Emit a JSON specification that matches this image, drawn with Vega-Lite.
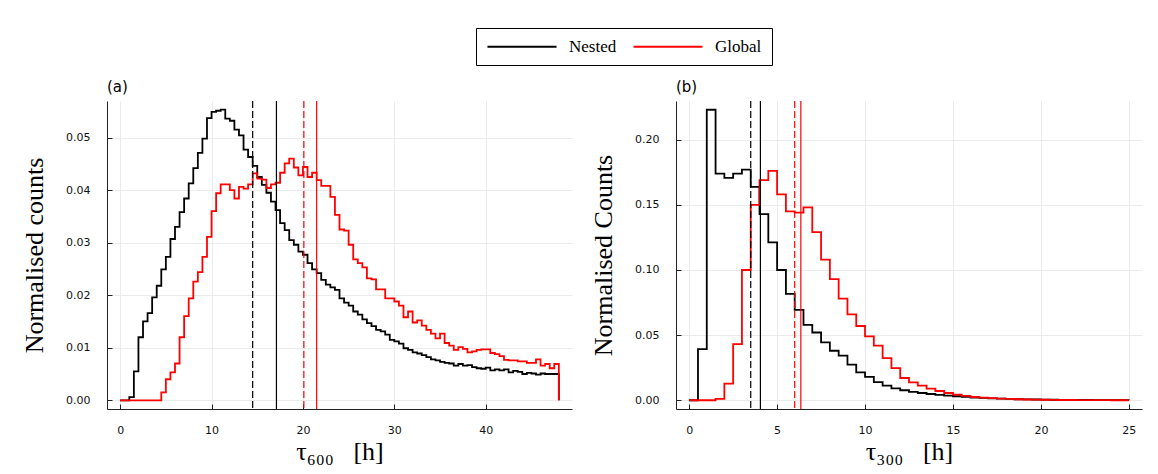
{
  "$schema": "https://vega.github.io/schema/vega-lite/v6.json",
  "padding": {"left": 21, "top": 27, "right": 10, "bottom": 5},
  "background": "white",
  "datasets": {
    "histA": [
      {"tau":0,"series":"Nested","value":0},{"tau":0.5,"series":"Nested","value":0},{"tau":1,"series":"Nested","value":0.0006},{"tau":1.5,"series":"Nested","value":0.0055},
      {"tau":2,"series":"Nested","value":0.012},{"tau":2.5,"series":"Nested","value":0.015},{"tau":3,"series":"Nested","value":0.0166},{"tau":3.5,"series":"Nested","value":0.0196},
      {"tau":4,"series":"Nested","value":0.0218},{"tau":4.5,"series":"Nested","value":0.0249},{"tau":5,"series":"Nested","value":0.0273},{"tau":5.5,"series":"Nested","value":0.0307},
      {"tau":6,"series":"Nested","value":0.033},{"tau":6.5,"series":"Nested","value":0.0358},{"tau":7,"series":"Nested","value":0.0384},{"tau":7.5,"series":"Nested","value":0.0413},
      {"tau":8,"series":"Nested","value":0.0442},{"tau":8.5,"series":"Nested","value":0.0471},{"tau":9,"series":"Nested","value":0.0498},{"tau":9.5,"series":"Nested","value":0.0537},
      {"tau":10,"series":"Nested","value":0.0549},{"tau":10.5,"series":"Nested","value":0.0551},{"tau":11,"series":"Nested","value":0.0553},{"tau":11.5,"series":"Nested","value":0.0536},
      {"tau":12,"series":"Nested","value":0.0532},{"tau":12.5,"series":"Nested","value":0.0515},{"tau":13,"series":"Nested","value":0.0504},{"tau":13.5,"series":"Nested","value":0.0477},
      {"tau":14,"series":"Nested","value":0.0463},{"tau":14.5,"series":"Nested","value":0.0446},{"tau":15,"series":"Nested","value":0.0425},{"tau":15.5,"series":"Nested","value":0.041},
      {"tau":16,"series":"Nested","value":0.0395},{"tau":16.5,"series":"Nested","value":0.0378},{"tau":17,"series":"Nested","value":0.0362},{"tau":17.5,"series":"Nested","value":0.0337},
      {"tau":18,"series":"Nested","value":0.0324},{"tau":18.5,"series":"Nested","value":0.0305},{"tau":19,"series":"Nested","value":0.0296},{"tau":19.5,"series":"Nested","value":0.0283},
      {"tau":20,"series":"Nested","value":0.0277},{"tau":20.5,"series":"Nested","value":0.0261},{"tau":21,"series":"Nested","value":0.0249},{"tau":21.5,"series":"Nested","value":0.0242},
      {"tau":22,"series":"Nested","value":0.0229},{"tau":22.5,"series":"Nested","value":0.022},{"tau":23,"series":"Nested","value":0.0215},{"tau":23.5,"series":"Nested","value":0.021},
      {"tau":24,"series":"Nested","value":0.0194},{"tau":24.5,"series":"Nested","value":0.0186},{"tau":25,"series":"Nested","value":0.018},{"tau":25.5,"series":"Nested","value":0.0169},
      {"tau":26,"series":"Nested","value":0.0163},{"tau":26.5,"series":"Nested","value":0.0154},{"tau":27,"series":"Nested","value":0.0147},{"tau":27.5,"series":"Nested","value":0.0141},
      {"tau":28,"series":"Nested","value":0.0134},{"tau":28.5,"series":"Nested","value":0.0131},{"tau":29,"series":"Nested","value":0.0125},{"tau":29.5,"series":"Nested","value":0.0115},
      {"tau":30,"series":"Nested","value":0.0112},{"tau":30.5,"series":"Nested","value":0.0108},{"tau":31,"series":"Nested","value":0.0099},{"tau":31.5,"series":"Nested","value":0.0096},
      {"tau":32,"series":"Nested","value":0.0091},{"tau":32.5,"series":"Nested","value":0.0089},{"tau":33,"series":"Nested","value":0.0086},{"tau":33.5,"series":"Nested","value":0.0082},
      {"tau":34,"series":"Nested","value":0.0078},{"tau":34.5,"series":"Nested","value":0.0076},{"tau":35,"series":"Nested","value":0.0073},{"tau":35.5,"series":"Nested","value":0.0071},
      {"tau":36,"series":"Nested","value":0.007},{"tau":36.5,"series":"Nested","value":0.0066},{"tau":37,"series":"Nested","value":0.0069},{"tau":37.5,"series":"Nested","value":0.0066},
      {"tau":38,"series":"Nested","value":0.0067},{"tau":38.5,"series":"Nested","value":0.0063},{"tau":39,"series":"Nested","value":0.0061},{"tau":39.5,"series":"Nested","value":0.006},
      {"tau":40,"series":"Nested","value":0.0062},{"tau":40.5,"series":"Nested","value":0.0057},{"tau":41,"series":"Nested","value":0.0059},{"tau":41.5,"series":"Nested","value":0.0057},
      {"tau":42,"series":"Nested","value":0.0059},{"tau":42.5,"series":"Nested","value":0.0053},{"tau":43,"series":"Nested","value":0.0056},{"tau":43.5,"series":"Nested","value":0.0054},
      {"tau":44,"series":"Nested","value":0.005},{"tau":44.5,"series":"Nested","value":0.0052},{"tau":45,"series":"Nested","value":0.0051},{"tau":45.5,"series":"Nested","value":0.0049},
      {"tau":46,"series":"Nested","value":0.0051},{"tau":46.5,"series":"Nested","value":0.005},{"tau":47,"series":"Nested","value":0.005},{"tau":47.5,"series":"Nested","value":0.005},
      {"tau":48,"series":"Nested","value":0},
      {"tau":0,"series":"Global","value":0},{"tau":0.5,"series":"Global","value":0},{"tau":1,"series":"Global","value":0},{"tau":1.5,"series":"Global","value":0},
      {"tau":2,"series":"Global","value":0},{"tau":2.5,"series":"Global","value":0},{"tau":3,"series":"Global","value":0},{"tau":3.5,"series":"Global","value":0},
      {"tau":4,"series":"Global","value":0},{"tau":4.5,"series":"Global","value":0.0015},{"tau":5,"series":"Global","value":0.004},{"tau":5.5,"series":"Global","value":0.0053},
      {"tau":6,"series":"Global","value":0.007},{"tau":6.5,"series":"Global","value":0.012},{"tau":7,"series":"Global","value":0.016},{"tau":7.5,"series":"Global","value":0.0194},
      {"tau":8,"series":"Global","value":0.0226},{"tau":8.5,"series":"Global","value":0.0244},{"tau":9,"series":"Global","value":0.0273},{"tau":9.5,"series":"Global","value":0.0311},
      {"tau":10,"series":"Global","value":0.036},{"tau":10.5,"series":"Global","value":0.0394},{"tau":11,"series":"Global","value":0.0411},{"tau":11.5,"series":"Global","value":0.0411},
      {"tau":12,"series":"Global","value":0.04},{"tau":12.5,"series":"Global","value":0.0384},{"tau":13,"series":"Global","value":0.0406},{"tau":13.5,"series":"Global","value":0.0403},
      {"tau":14,"series":"Global","value":0.0411},{"tau":14.5,"series":"Global","value":0.0432},{"tau":15,"series":"Global","value":0.0422},{"tau":15.5,"series":"Global","value":0.042},
      {"tau":16,"series":"Global","value":0.0404},{"tau":16.5,"series":"Global","value":0.0411},{"tau":17,"series":"Global","value":0.0414},{"tau":17.5,"series":"Global","value":0.0433},
      {"tau":18,"series":"Global","value":0.0451},{"tau":18.5,"series":"Global","value":0.046},{"tau":19,"series":"Global","value":0.0443},{"tau":19.5,"series":"Global","value":0.0428},
      {"tau":20,"series":"Global","value":0.0444},{"tau":20.5,"series":"Global","value":0.0425},{"tau":21,"series":"Global","value":0.0433},{"tau":21.5,"series":"Global","value":0.0419},
      {"tau":22,"series":"Global","value":0.0408},{"tau":22.5,"series":"Global","value":0.0408},{"tau":23,"series":"Global","value":0.0387},{"tau":23.5,"series":"Global","value":0.0353},
      {"tau":24,"series":"Global","value":0.0325},{"tau":24.5,"series":"Global","value":0.0323},{"tau":25,"series":"Global","value":0.0296},{"tau":25.5,"series":"Global","value":0.0268},
      {"tau":26,"series":"Global","value":0.0261},{"tau":26.5,"series":"Global","value":0.0253},{"tau":27,"series":"Global","value":0.0232},{"tau":27.5,"series":"Global","value":0.023},
      {"tau":28,"series":"Global","value":0.0211},{"tau":28.5,"series":"Global","value":0.0211},{"tau":29,"series":"Global","value":0.0194},{"tau":29.5,"series":"Global","value":0.0194},
      {"tau":30,"series":"Global","value":0.0188},{"tau":30.5,"series":"Global","value":0.018},{"tau":31,"series":"Global","value":0.0158},{"tau":31.5,"series":"Global","value":0.0169},
      {"tau":32,"series":"Global","value":0.0148},{"tau":32.5,"series":"Global","value":0.0152},{"tau":33,"series":"Global","value":0.0142},{"tau":33.5,"series":"Global","value":0.0134},
      {"tau":34,"series":"Global","value":0.0127},{"tau":34.5,"series":"Global","value":0.0118},{"tau":35,"series":"Global","value":0.0127},{"tau":35.5,"series":"Global","value":0.0109},
      {"tau":36,"series":"Global","value":0.0104},{"tau":36.5,"series":"Global","value":0.0096},{"tau":37,"series":"Global","value":0.0101},{"tau":37.5,"series":"Global","value":0.0098},
      {"tau":38,"series":"Global","value":0.0091},{"tau":38.5,"series":"Global","value":0.0093},{"tau":39,"series":"Global","value":0.0096},{"tau":39.5,"series":"Global","value":0.0097},
      {"tau":40,"series":"Global","value":0.0097},{"tau":40.5,"series":"Global","value":0.009},{"tau":41,"series":"Global","value":0.0088},{"tau":41.5,"series":"Global","value":0.0084},
      {"tau":42,"series":"Global","value":0.0077},{"tau":42.5,"series":"Global","value":0.0076},{"tau":43,"series":"Global","value":0.0076},{"tau":43.5,"series":"Global","value":0.0074},
      {"tau":44,"series":"Global","value":0.0074},{"tau":44.5,"series":"Global","value":0.0071},{"tau":45,"series":"Global","value":0.0071},{"tau":45.5,"series":"Global","value":0.0078},
      {"tau":46,"series":"Global","value":0.0066},{"tau":46.5,"series":"Global","value":0.0069},{"tau":47,"series":"Global","value":0.0061},{"tau":47.5,"series":"Global","value":0.0069},
      {"tau":48,"series":"Global","value":0}
    ],
    "histB": [
      {"tau":0,"series":"Nested","value":0},{"tau":0.5,"series":"Nested","value":0.0393},{"tau":1,"series":"Nested","value":0.223},{"tau":1.5,"series":"Nested","value":0.174},
      {"tau":2,"series":"Nested","value":0.1707},{"tau":2.5,"series":"Nested","value":0.174},{"tau":3,"series":"Nested","value":0.177},{"tau":3.5,"series":"Nested","value":0.1638},
      {"tau":4,"series":"Nested","value":0.1429},{"tau":4.5,"series":"Nested","value":0.1212},{"tau":5,"series":"Nested","value":0.1},{"tau":5.5,"series":"Nested","value":0.0816},
      {"tau":6,"series":"Nested","value":0.0694},{"tau":6.5,"series":"Nested","value":0.0579},{"tau":7,"series":"Nested","value":0.052},{"tau":7.5,"series":"Nested","value":0.0444},
      {"tau":8,"series":"Nested","value":0.038},{"tau":8.5,"series":"Nested","value":0.0342},{"tau":9,"series":"Nested","value":0.0273},{"tau":9.5,"series":"Nested","value":0.0214},
      {"tau":10,"series":"Nested","value":0.0179},{"tau":10.5,"series":"Nested","value":0.014},{"tau":11,"series":"Nested","value":0.0112},{"tau":11.5,"series":"Nested","value":0.0092},
      {"tau":12,"series":"Nested","value":0.0077},{"tau":12.5,"series":"Nested","value":0.0064},{"tau":13,"series":"Nested","value":0.0056},{"tau":13.5,"series":"Nested","value":0.0048},
      {"tau":14,"series":"Nested","value":0.0041},{"tau":14.5,"series":"Nested","value":0.0036},{"tau":15,"series":"Nested","value":0.0031},{"tau":15.5,"series":"Nested","value":0.0026},
      {"tau":16,"series":"Nested","value":0.0021},{"tau":16.5,"series":"Nested","value":0.0018},{"tau":17,"series":"Nested","value":0.0015},{"tau":17.5,"series":"Nested","value":0.0012},
      {"tau":18,"series":"Nested","value":0.001},{"tau":18.5,"series":"Nested","value":0.0008},{"tau":19,"series":"Nested","value":0.0007},{"tau":19.5,"series":"Nested","value":0.0006},
      {"tau":20,"series":"Nested","value":0.0005},{"tau":20.5,"series":"Nested","value":0.0004},{"tau":21,"series":"Nested","value":0.0003},{"tau":21.5,"series":"Nested","value":0.0003},
      {"tau":22,"series":"Nested","value":0.0002},{"tau":22.5,"series":"Nested","value":0.0002},{"tau":23,"series":"Nested","value":0.0001},{"tau":23.5,"series":"Nested","value":0.0001},
      {"tau":24,"series":"Nested","value":0.0001},{"tau":24.5,"series":"Nested","value":0.0001},{"tau":25,"series":"Nested","value":0},
      {"tau":0,"series":"Global","value":0},{"tau":0.5,"series":"Global","value":0},{"tau":1,"series":"Global","value":0},{"tau":1.5,"series":"Global","value":0.001},
      {"tau":2,"series":"Global","value":0.0128},{"tau":2.5,"series":"Global","value":0.0431},{"tau":3,"series":"Global","value":0.1},{"tau":3.5,"series":"Global","value":0.15},
      {"tau":4,"series":"Global","value":0.169},{"tau":4.5,"series":"Global","value":0.176},{"tau":5,"series":"Global","value":0.158},{"tau":5.5,"series":"Global","value":0.145},
      {"tau":6,"series":"Global","value":0.144},{"tau":6.5,"series":"Global","value":0.148},{"tau":7,"series":"Global","value":0.129},{"tau":7.5,"series":"Global","value":0.108},
      {"tau":8,"series":"Global","value":0.093},{"tau":8.5,"series":"Global","value":0.078},{"tau":9,"series":"Global","value":0.066},{"tau":9.5,"series":"Global","value":0.057},
      {"tau":10,"series":"Global","value":0.049},{"tau":10.5,"series":"Global","value":0.042},{"tau":11,"series":"Global","value":0.0324},{"tau":11.5,"series":"Global","value":0.0247},
      {"tau":12,"series":"Global","value":0.0171},{"tau":12.5,"series":"Global","value":0.0138},{"tau":13,"series":"Global","value":0.0112},{"tau":13.5,"series":"Global","value":0.0089},
      {"tau":14,"series":"Global","value":0.0071},{"tau":14.5,"series":"Global","value":0.0056},{"tau":15,"series":"Global","value":0.0043},{"tau":15.5,"series":"Global","value":0.0033},
      {"tau":16,"series":"Global","value":0.0025},{"tau":16.5,"series":"Global","value":0.002},{"tau":17,"series":"Global","value":0.0016},{"tau":17.5,"series":"Global","value":0.0012},
      {"tau":18,"series":"Global","value":0.001},{"tau":18.5,"series":"Global","value":0.0008},{"tau":19,"series":"Global","value":0.0006},{"tau":19.5,"series":"Global","value":0.0005},
      {"tau":20,"series":"Global","value":0.0004},{"tau":20.5,"series":"Global","value":0.0003},{"tau":21,"series":"Global","value":0.0002},{"tau":21.5,"series":"Global","value":0.0002},
      {"tau":22,"series":"Global","value":0.0001},{"tau":22.5,"series":"Global","value":0.0001},{"tau":23,"series":"Global","value":0.0001},{"tau":23.5,"series":"Global","value":0.0001},
      {"tau":24,"series":"Global","value":0},{"tau":24.5,"series":"Global","value":0},{"tau":25,"series":"Global","value":0}
    ],
    "rulesA": [
      {"tau":14.5,"series":"Nested","stat":"median"},{"tau":17.1,"series":"Nested","stat":"mean"},
      {"tau":20.1,"series":"Global","stat":"median"},{"tau":21.5,"series":"Global","stat":"mean"}
    ],
    "rulesB": [
      {"tau":3.5,"series":"Nested","stat":"median"},{"tau":4.05,"series":"Nested","stat":"mean"},
      {"tau":6.0,"series":"Global","stat":"median"},{"tau":6.35,"series":"Global","stat":"mean"}
    ]
  },
  "spacing": 18,
  "resolve": {"scale": {"color": "shared", "strokeDash": "shared"}, "legend": {"color": "shared"}},
  "hconcat": [
    {
      "width": 465, "height": 308,
      "title": {"text": "(a)", "anchor": "start", "frame": "group", "font": "DejaVu Sans", "fontSize": 15, "fontWeight": "normal", "offset": 5, "color": "black"},
      "layer": [
        {
          "data": {"name": "histA"},
          "mark": {"type": "line", "interpolate": "step-after", "strokeWidth": 1.8},
          "encoding": {
            "x": {"field": "tau", "type": "quantitative", "scale": {"domain": [-1.44, 49.44], "nice": false, "zero": false}, "axis": {"values": [0, 10, 20, 30, 40], "title": "τ₆₀₀ \u2002[h]"}},
            "y": {"field": "value", "type": "quantitative", "scale": {"domain": [-0.00166, 0.05696], "nice": false, "zero": false}, "axis": {"values": [0, 0.01, 0.02, 0.03, 0.04, 0.05], "format": ".2f", "title": "Normalised counts"}},
            "color": {"field": "series", "type": "nominal", "scale": {"domain": ["Nested", "Global"], "range": ["#000000", "#ff0000"]},
              "legend": {"orient": "none", "legendX": 369, "legendY": -73, "direction": "horizontal", "title": null, "symbolType": "M-1,0H8.857", "symbolSize": 196, "symbolStrokeWidth": 2, "labelOffset": 66, "labelFont": "Liberation Serif", "labelFontSize": 17, "labelColor": "black", "columnPadding": 12, "padding": 10, "strokeColor": "black", "fillColor": "white", "labelLimit": 0}}
          }
        },
        {
          "data": {"name": "rulesA"},
          "mark": {"type": "rule", "strokeWidth": 1.2},
          "encoding": {
            "x": {"field": "tau", "type": "quantitative"},
            "color": {"field": "series", "type": "nominal", "legend": null},
            "strokeDash": {"field": "stat", "type": "nominal", "scale": {"domain": ["median", "mean"], "range": [[7, 3], [1, 0]]}, "legend": null}
          }
        }
      ]
    },
    {
      "width": 466, "height": 308,
      "title": {"text": "(b)", "anchor": "start", "frame": "group", "font": "DejaVu Sans", "fontSize": 15, "fontWeight": "normal", "offset": 5, "color": "black"},
      "layer": [
        {
          "data": {"name": "histB"},
          "mark": {"type": "line", "interpolate": "step-after", "strokeWidth": 1.8},
          "encoding": {
            "x": {"field": "tau", "type": "quantitative", "scale": {"domain": [-0.75, 25.75], "nice": false, "zero": false}, "axis": {"values": [0, 5, 10, 15, 20, 25], "title": "τ₃₀₀ \u2002[h]"}},
            "y": {"field": "value", "type": "quantitative", "scale": {"domain": [-0.0067, 0.2297], "nice": false, "zero": false}, "axis": {"values": [0, 0.05, 0.1, 0.15, 0.2], "format": ".2f", "title": "Normalised Counts"}},
            "color": {"field": "series", "type": "nominal", "scale": {"domain": ["Nested", "Global"], "range": ["#000000", "#ff0000"]},
              "legend": {"orient": "none", "legendX": 369, "legendY": -73, "direction": "horizontal", "title": null, "symbolType": "M-1,0H8.857", "symbolSize": 196, "symbolStrokeWidth": 2, "labelOffset": 66, "labelFont": "Liberation Serif", "labelFontSize": 17, "labelColor": "black", "columnPadding": 12, "padding": 10, "strokeColor": "black", "fillColor": "white", "labelLimit": 0}}
          }
        },
        {
          "data": {"name": "rulesB"},
          "mark": {"type": "rule", "strokeWidth": 1.2},
          "encoding": {
            "x": {"field": "tau", "type": "quantitative"},
            "color": {"field": "series", "type": "nominal", "legend": null},
            "strokeDash": {"field": "stat", "type": "nominal", "scale": {"domain": ["median", "mean"], "range": [[7, 3], [1, 0]]}, "legend": null}
          }
        }
      ]
    }
  ],
  "config": {
    "view": {"stroke": null},
    "axis": {"domainColor": "#222222", "domainWidth": 1, "tickColor": "#222222", "tickSize": -5, "gridColor": "#ebebeb", "gridWidth": 1, "labelFont": "DejaVu Sans", "labelFontSize": 11, "labelColor": "#111111", "titleFont": "Liberation Serif", "titleFontSize": 26, "titleFontWeight": "normal", "titleColor": "black"},
    "axisX": {"labelPadding": 20, "titlePadding": 3},
    "axisY": {"labelPadding": 22, "titlePadding": 18}
  }
}
